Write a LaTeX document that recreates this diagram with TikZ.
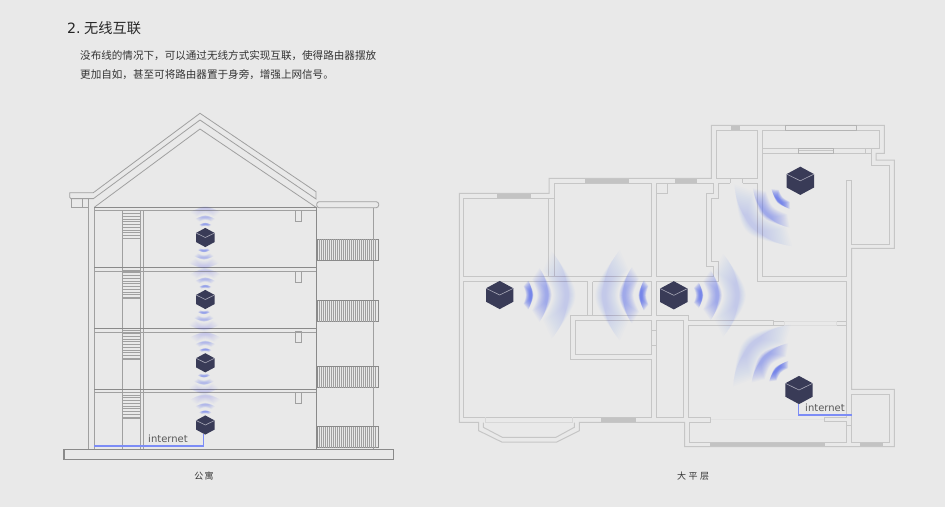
\documentclass[tikz,border=0pt]{standalone}
\usepackage{fontspec}
\setmainfont{Noto Sans CJK SC}
\newfontfamily\latinf{DejaVu Sans}
\newcommand{\fwc}{\char"FF0C\relax}
\definecolor{bgc}{HTML}{E9E9E9}
\definecolor{bline}{HTML}{A0A0A0}
\definecolor{bdark}{HTML}{8A8A8A}
\definecolor{pline}{HTML}{C6C6C6}
\definecolor{pwin}{HTML}{C3C3C3}
\definecolor{pdark}{HTML}{B4B4B4}
\definecolor{cubec}{HTML}{393B57}
\definecolor{cubeln}{HTML}{A9A9B8}
\definecolor{wavec}{HTML}{5A6EF2}
\definecolor{netc}{HTML}{7C8CF6}
\definecolor{txt}{HTML}{333333}
\tikzset{
 bld/.style={draw=bline,line width=.8pt,line join=miter},
 bldd/.style={draw=bdark,line width=1pt},
 hatchl/.style={draw=bline,line width=.7pt},
 wallst/.style={draw=pline,line width=1pt},
 windst/.style={fill=pwin},
 railst/.style={draw=pdark,line width=.8pt},
 netline/.style={draw=netc,line width=1.6pt},
 inetst/.style={font=\latinf\fontsize{10}{10}\selectfont,text=black!65,inner sep=0pt},
 capst/.style={font=\fontsize{9}{9}\selectfont,text=txt,inner sep=0pt},
 titlest/.style={font=\fontsize{14.2}{14.2}\selectfont,text=black!85,inner sep=0pt,anchor=west},
 bodyst/.style={font=\fontsize{10.57}{10.57}\selectfont,text=txt,inner sep=0pt,anchor=west},
}
% tapered annular fan: cx cy dir R halfangle thick layer-opacity
\newcommand{\wavearc}[7]{%
 \foreach \ii in {1,...,16}{%
  \pgfmathsetmacro\angv{#5*(0.3+0.7*\ii/16)}%
  \pgfmathsetmacro\angq{0.75*\angv}%
  \pgfmathsetmacro\rin{#4-#6*(0.12+0.88*\ii/16)}%
  \pgfmathsetmacro\xa{#1+#4*cos(#3-\angv)}%
  \pgfmathsetmacro\ya{#2+#4*sin(#3-\angv)}%
  \pgfmathsetmacro\xb{#1+#4*cos(#3+\angv)}%
  \pgfmathsetmacro\yb{#2+#4*sin(#3+\angv)}%
  \pgfmathsetmacro\xc{#1+\rin*cos(#3+\angq)}%
  \pgfmathsetmacro\yc{#2+\rin*sin(#3+\angq)}%
  \pgfmathsetmacro\xd{#1+\rin*cos(#3-\angq)}%
  \pgfmathsetmacro\yd{#2+\rin*sin(#3-\angq)}%
  \pgfmathsetmacro\xo{2*(#1+#4*cos(#3))-(\xa+\xb)/2}%
  \pgfmathsetmacro\yo{2*(#2+#4*sin(#3))-(\ya+\yb)/2}%
  \pgfmathsetmacro\xn{2*(#1+\rin*cos(#3))-(\xc+\xd)/2}%
  \pgfmathsetmacro\yn{2*(#2+\rin*sin(#3))-(\yc+\yd)/2}%
  \fill[wavec,fill opacity=#7] (\xa,\ya) .. controls (\xo,\yo) .. (\xb,\yb) -- (\xc,\yc) .. controls (\xn,\yn) .. (\xd,\yd) -- cycle;
 }%
}
% three waves, large
\newcommand{\wavesL}[6]{% cx cy dir R1 R2 R3
 \wavearc{#1}{#2}{#3}{#4}{27}{6.5}{.09}%
 \wavearc{#1}{#2}{#3}{#5}{34}{12}{.038}%
 \wavearc{#1}{#2}{#3}{#6}{40}{18}{.017}%
}
% small building waves
\newcommand{\wavesS}[3]{% cx cy dir
 \wavearc{#1}{#2}{#3}{14}{26}{2.5}{.06}%
 \wavearc{#1}{#2}{#3}{21}{28}{4}{.026}%
 \wavearc{#1}{#2}{#3}{29.5}{31}{7}{.011}%
}
% cube: cx cy half-width
\newcommand{\cubeicon}[3]{%
 \fill[cubec] (#1,#2-#3*1.03) -- (#1+#3,#2-#3*.49) -- (#1+#3,#2+#3*.49) -- (#1,#2+#3*1.03) -- (#1-#3,#2+#3*.49) -- (#1-#3,#2-#3*.49) -- cycle;
 \draw[cubeln,line width=.6pt] (#1-#3,#2-#3*.49) -- (#1,#2) -- (#1+#3,#2-#3*.49);
}
\begin{document}
\begin{tikzpicture}[x=1pt,y=-1pt]
\fill[bgc] (0,0) rectangle (945,507);
\useasboundingbox (0,0) rectangle (945,507);

% texts
\node[titlest] (ttl) at (67,28) {{\latinf 2.}\hspace{3.5pt}无线互联};
\node[bodyst] (l1) at (80,56) {没布线的情况下\fwc 可以通过无线方式实现互联\fwc 使得路由器摆放};
\node[bodyst] (l2) at (80,75) {更加自如\fwc 甚至可将路由器置于身旁\fwc 增强上网信号。};
\node[capst] (c1) at (204,476) {公\hspace{1.5pt}寓};
\node[capst] (c2) at (693,476) {大\hspace{2.5pt}平\hspace{2.5pt}层};

% ===== building =====
\draw[bld] (69.7,192.7) -- (93.3,192.7) -- (200,113.3) -- (316,191.7) -- (316,199) -- (200,120) -- (93.3,198.7) -- (71,198.7) -- (69.7,197.3) -- cycle;
\draw[bld] (94.3,207.3) -- (200,129) -- (316,207.3);
\draw[bld] (71.7,198.7) rectangle (88.3,207.7);
\draw[bld] (82.3,198.7) -- (82.3,207.7);
\draw[bld] (88.3,198.7) -- (94.3,198.7);
\draw[bld] (88.3,207.7) -- (88.3,449.3);
\draw[bld] (94.3,207.3) -- (94.3,449.3);
\draw[bld] (122.7,210.7) -- (122.7,449.3);
\draw[bld] (140.7,210.7) -- (140.7,449.3);
\draw[bld] (143.3,210.7) -- (143.3,449.3);
\draw[bldd] (316.5,207.3) -- (316.5,449.3);
\draw[bld,rounded corners=2.5pt] (316.7,201.7) rectangle (378.7,207.7);
\draw[bld] (373.5,207.7) -- (373.5,426.7);
\draw[bld] (373.5,447.7) -- (373.5,449.3);
\foreach \ya/\yb in {207.3/210.7,267.3/271.3,328.3/332.3,389/392.3}{
 \draw[bldd] (94.3,\ya) -- (316,\ya);
 \draw[bld] (94.3,\yb) -- (316,\yb);
}
% stair hatches
\foreach \ya/\yb in {210.7/238.3,270/298.3,330.7/359.3,392.3/418.3}{
 \draw[hatchl] (122.7,\ya) rectangle (140.7,\yb);
 \pgfmathsetmacro\yc{\ya+2.75}
 \foreach \y in {\ya,\yc,...,\yb}{\draw[hatchl] (122.7,\y) -- (140.7,\y);}
}
% balconies
\foreach \ya/\yb in {239/260,300.7/321.7,366.7/387.7,426.7/447.7}{
 \draw[bldd,fill=bgc] (317.5,\ya) rectangle (378,\yb);
 \foreach \x in {319.5,321.5,...,377}{\draw[hatchl] (\x,\ya) -- (\x,\yb);}
}
% small rects
\foreach \ya/\yb in {210.7/221.7,271.3/282.3,331.7/342.7,392.3/403.3}{
 \draw[bld] (295.7,\ya) rectangle (301.3,\yb);
}
% ground
\draw[bldd,line width=1.1pt] (64,449.5) rectangle (393.3,459.3);

% waves in building
\wavesS{205.3}{237.5}{270}\wavesS{204}{237.5}{90}
\wavesS{205.3}{299.5}{270}\wavesS{204}{299.5}{90}
\wavesS{205.3}{362.8}{270}\wavesS{204}{362.8}{90}
\wavesS{205.3}{425}{270}
\cubeicon{205.3}{237.5}{9.3}
\cubeicon{205.3}{299.5}{9.3}
\cubeicon{205.3}{362.8}{9.3}
\cubeicon{205.3}{425}{9.3}
\coordinate (r4) at (203.3,434.3);
\coordinate (f1) at (94.3,445.7);
\draw[netline] (r4) |- (f1);
\node[inetst] (i1) at (168,439) {internet};

% ===== plan =====
\foreach \a/\b/\c/\d in {496.7/193.3/531.3/198.3,584.7/178.3/629/183.3,675/178.3/697.3/183.3,730.7/125.3/740/130.3,601/417.3/635.7/422.3,710/442.3/825/446.7,860.3/442.3/882.7/446.7}{
 \fill[windst] (\a,\b) rectangle (\c,\d);
}
% outer wall
\draw[wallst] (459.3,193.3) -- (549,193.3) -- (549,178.3) -- (711.3,178.3) -- (711.3,125.3) -- (884.3,125.3) -- (884.3,153.3) -- (876,153.3) -- (876,160) -- (894.3,160) -- (894.3,248.3) -- (851.7,248.3) -- (851.7,389.3) -- (894.3,389.3) -- (894.3,446.7) -- (684.7,446.7) -- (684.7,422.3) -- (579.3,422.3) -- (579.3,430.7) -- (556.7,442) -- (501.7,442) -- (478.7,430.7) -- (478.7,422.3) -- (459.3,422.3) -- cycle;
% rooms
\draw[wallst] (463.7,198.3) rectangle (548.7,276);
\draw[wallst] (548.7,198.3) -- (554,198.3);
\draw[wallst] (554,183.3) rectangle (651.7,276);
\draw[wallst] (548.7,276) -- (554,276);
\draw[wallst] (656.3,183.3) -- (713.3,183.3) -- (713.3,193.3) -- (706.7,193.3) -- (706.7,266) -- (713.3,266) -- (713.3,276) -- (656.3,276) -- cycle;
\draw[wallst] (656.3,183.3) rectangle (667.7,193.3);
\draw[wallst] (718.3,183.3) -- (730,183.3) (742.7,183.3) -- (757.3,183.3) -- (757.3,281.7) -- (846.7,281.7) -- (846.7,417) -- (824,417) -- (824,421.7) -- (846.7,421.7) -- (846.7,442.3) -- (689.3,442.3) -- (689.3,422) -- (710.7,422) -- (710.7,417) -- (688.3,417) -- (688.3,325.7) -- (773.3,325.7) -- (773.3,320.7) -- (688.3,320.7) -- (688.3,315) -- (656.3,315) -- (656.3,281.7) -- (718.3,281.7) -- (718.3,261.7) -- (711.7,261.7) -- (711.7,198.3) -- (718.3,198.3) -- (718.3,183.3);
\draw[wallst] (716,130.3) rectangle (757.3,178.3);
\draw[wallst] (730,178.3) -- (730,183.3) (742.7,178.3) -- (742.7,183.3);
\draw[wallst] (762,130.3) -- (879.3,130.3) -- (879.3,148.3) -- (762,148.3) -- cycle;
\draw[wallst] (762,153.3) -- (762,276.7) -- (846.7,276.7) -- (846.7,180.7) -- (851.7,180.7) -- (851.7,244) -- (889.3,244) -- (889.3,165) -- (871,165) -- (871,153.3) -- cycle;
\draw[wallst] (762,148.3) -- (762,153.3) (871,148.3) -- (871,153.3) (865,148.3) -- (865,153.3);
\draw[wallst] (773.3,321.7) -- (846.7,321.7) (773.3,325.7) -- (846.7,325.7);
\draw[wallst] (846.7,425.7) -- (851.7,425.7);
\draw[wallst] (851.7,394.3) rectangle (889.3,442.3);
% rails
\draw[railst] (785,125.3) rectangle (856.3,130.3);
\draw[railst] (798.7,148.3) rectangle (833.3,153.3);
\draw[wallst] (798.7,150) -- (833.3,150);
\draw[wallst,draw=pline!60] (784,321.7) rectangle (836.7,325.7);
\draw[wallst,draw=pline!50] (710.7,419.5) -- (824,419.5);
% big room and others
\draw[wallst] (463.7,281.7) -- (587.7,281.7) -- (587.7,315.7) -- (570.7,315.7) -- (570.7,359.3) -- (651.7,359.3) -- (651.7,417) -- (463.7,417) -- cycle;
\draw[wallst] (592.7,281.7) -- (651.7,281.7) -- (651.7,315.7) -- (570.7,315.7);
\draw[wallst] (592.7,281.7) -- (592.7,315.7);
\draw[wallst] (575.7,320.7) rectangle (651.7,354.3);
\draw[wallst] (651.7,330.3) -- (656.3,330.3) (651.7,345) -- (656.3,345);
\draw[wallst] (656.3,320.7) rectangle (683.3,417);
\draw[wallst] (483.3,422.7) -- (483.3,427.3) -- (502.3,437.3) -- (556,437.3) -- (574.3,427.3) -- (574.3,422.7);
\draw[wallst,draw=pline!70] (485,417) -- (485,422.3) -- (572.3,422.3) -- (572.3,417);

% waves in plan
\wavesL{499.7}{295}{0}{32}{48}{68}
\wavesL{673.8}{295.3}{180}{33.5}{50.5}{70.5}
\wavesL{673.8}{295.3}{0}{28}{44.5}{64.5}
\wavesL{800.3}{180.8}{137}{30}{48}{66}
\wavesL{799}{390}{223}{31}{48}{66}
\cubeicon{499.7}{295}{13.7}
\cubeicon{673.8}{295.3}{13.7}
\cubeicon{800.3}{180.8}{13.7}
\cubeicon{799}{390}{13.7}
\coordinate (r5) at (798.3,404);
\coordinate (f2) at (851.7,414.7);
\draw[netline] (r5) |- (f2);
\node[inetst] (i2) at (825,408) {internet};
\end{tikzpicture}
\end{document}
